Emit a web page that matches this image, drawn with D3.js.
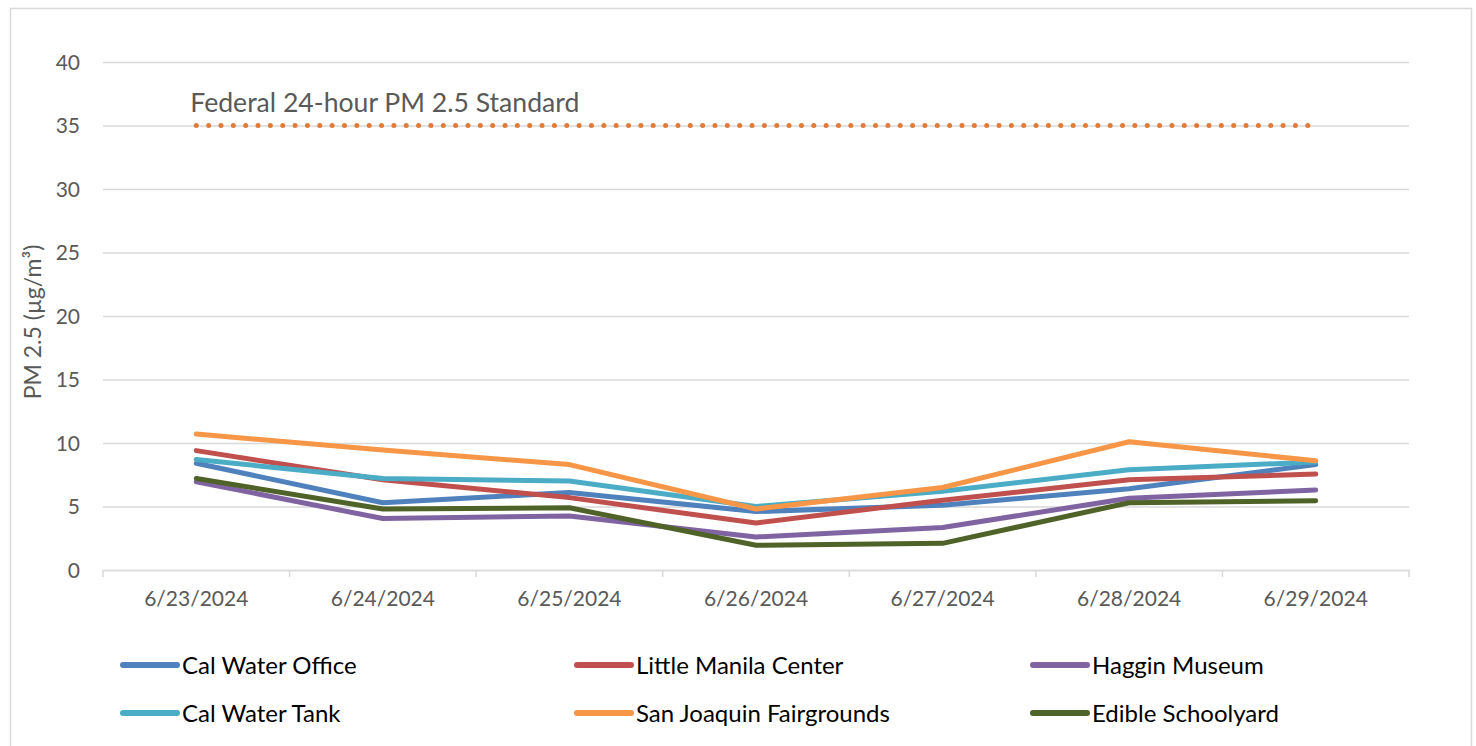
<!DOCTYPE html>
<html>
<head>
<meta charset="utf-8">
<script src="https://cdn.jsdelivr.net/npm/d3@7"></script>
<style>
  html, body { margin: 0; padding: 0; background: #fff; }
  text { font-family: Lato, "Open Sans", sans-serif; }
</style>
</head>
<body>
<div id="chart"></div>
<script>
  const dates = ["6/23/2024", "6/24/2024", "6/25/2024", "6/26/2024", "6/27/2024", "6/28/2024", "6/29/2024"];
  const seriesNames = ["Cal Water Office", "Little Manila Center", "Haggin Museum", "Cal Water Tank", "San Joaquin Fairgrounds", "Edible Schoolyard"];
  const seriesColors = ["#4F81BD", "#C0504D", "#8064A2", "#4BACC6", "#F79646", "#4F6228"];

  const calWaterOffice = [8.4, 5.3, 6.1, 4.6, 5.1, 6.4, 8.3];
  const littleManila = [9.4, 7.1, 5.7, 3.7, 5.5, 7.1, 7.55];
  const hagginMuseum = [6.95, 4.05, 4.25, 2.6, 3.35, 5.65, 6.3];
  const calWaterTank = [8.7, 7.2, 7.0, 5.0, 6.2, 7.9, 8.5];
  const sanJoaquin = [10.7, 9.45, 8.3, 4.8, 6.5, 10.1, 8.6];
  const edibleSchoolyard = [7.2, 4.8, 4.9, 1.95, 2.1, 5.3, 5.45];

  const standardValue = 35;
  const standardLabel = "Federal 24-hour PM 2.5 Standard";
  const yTicks = [0, 5, 10, 15, 20, 25, 30, 35, 40];

  const allSeries = [calWaterOffice, littleManila, hagginMuseum, calWaterTank, sanJoaquin, edibleSchoolyard];

  const W = 1476, H = 746;
  const plot = { left: 103, right: 1409, top: 62, bottom: 570 };

  const svg = d3.select("#chart")
      .append("svg")
      .attr("width", W)
      .attr("height", H);

  // outer chart border
  svg.append("rect")
      .attr("x", 10.5).attr("y", 8.5)
      .attr("width", 1461).attr("height", 760)
      .attr("fill", "none")
      .attr("stroke", "#d9d9d9")
      .attr("stroke-width", 1.5);

  const x = d3.scaleBand()
      .domain(dates)
      .range([plot.left, plot.right])
      .padding(0);

  const xc = d => x(d) + x.bandwidth() / 2;

  const y = d3.scaleLinear()
      .domain([0, 40])
      .range([plot.bottom, plot.top]);

  // gridlines
  svg.append("g")
      .attr("transform", `translate(${plot.left},0)`)
      .call(d3.axisLeft(y).tickValues(yTicks).tickSize(-(plot.right - plot.left)).tickFormat(""))
      .call(g => g.select(".domain").remove())
      .call(g => g.selectAll("line").attr("stroke", "#d9d9d9").attr("stroke-width", 1.5));

  // y labels
  svg.append("g")
      .selectAll("text")
      .data(yTicks)
      .join("text")
      .attr("x", 80)
      .attr("y", d => y(d))
      .attr("dy", "0.36em")
      .attr("text-anchor", "end")
      .attr("fill", "#595959")
      .attr("font-size", 21)
      .text(d => d);

  // x axis
  const xAxis = d3.axisBottom(x).tickSize(0).tickPadding(21);
  const gx = svg.append("g")
      .attr("transform", `translate(0,${plot.bottom})`)
      .call(xAxis);
  gx.select(".domain").attr("stroke", "#d9d9d9").attr("stroke-width", 1.5);
  gx.selectAll("text").attr("fill", "#595959").attr("font-size", 21).attr("font-family", "Lato, sans-serif");

  // tick marks at band boundaries
  const bounds = dates.map(d => x(d)).concat([plot.right]);
  svg.append("g")
      .selectAll("line")
      .data(bounds)
      .join("line")
      .attr("x1", d => d).attr("x2", d => d)
      .attr("y1", plot.bottom).attr("y2", plot.bottom + 7)
      .attr("stroke", "#d9d9d9")
      .attr("stroke-width", 1.5);

  // y title
  svg.append("text")
      .attr("transform", `translate(41,${(plot.top + plot.bottom) / 2 + 6}) rotate(-90)`)
      .attr("text-anchor", "middle")
      .attr("fill", "#595959")
      .attr("font-size", 23)
      .text("PM 2.5 (µg/m³)");

  // standard line
  svg.append("line")
      .attr("x1", xc(dates[0])).attr("x2", xc(dates[dates.length - 1]))
      .attr("y1", y(standardValue)).attr("y2", y(standardValue))
      .attr("stroke", "#E07B39")
      .attr("stroke-width", 5)
      .attr("stroke-linecap", "round")
      .attr("stroke-dasharray", "0 12.35");

  svg.append("text")
      .attr("x", xc(dates[0]) - 6)
      .attr("y", y(standardValue) - 14)
      .attr("fill", "#595959")
      .attr("font-size", 26.6)
      .text(standardLabel);

  // series
  const line = d3.line()
      .x((d, i) => xc(dates[i]))
      .y(d => y(d));

  svg.append("g")
      .selectAll("path")
      .data(allSeries)
      .join("path")
      .attr("d", line)
      .attr("fill", "none")
      .attr("stroke", (d, i) => seriesColors[i])
      .attr("stroke-width", 5)
      .attr("stroke-linecap", "round")
      .attr("stroke-linejoin", "round");

  // legend
  const legendCols = [123, 577, 1033];
  const legendRows = [665, 713];
  const legend = svg.append("g")
      .selectAll("g")
      .data(seriesNames)
      .join("g")
      .attr("transform", (d, i) => `translate(${legendCols[i % 3]},${legendRows[Math.floor(i / 3)]})`);

  legend.append("line")
      .attr("x1", 0).attr("x2", 54)
      .attr("stroke", (d, i) => seriesColors[i])
      .attr("stroke-width", 6)
      .attr("stroke-linecap", "round");

  legend.append("text")
      .attr("x", 59)
      .attr("dy", "0.36em")
      .attr("fill", "#000")
      .attr("font-size", 24)
      .text(d => d);
</script>
</body>
</html>
